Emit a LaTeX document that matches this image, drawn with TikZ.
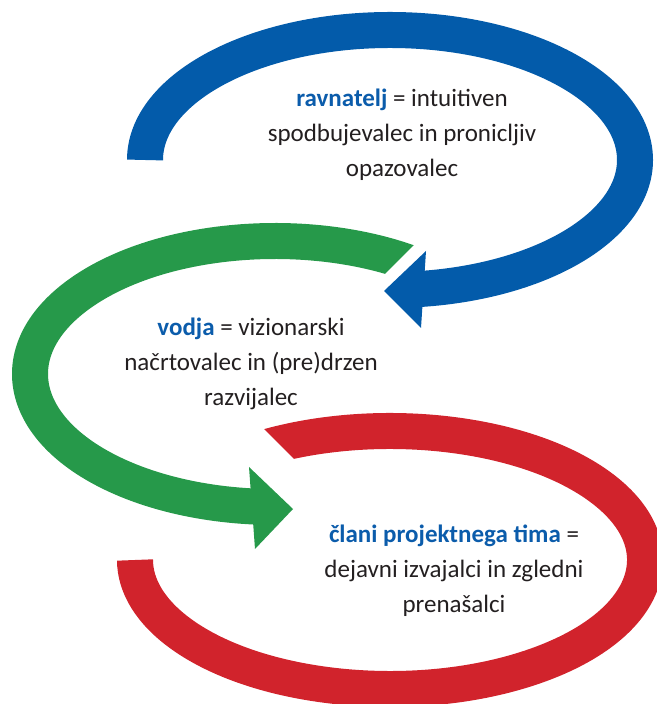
\documentclass[tikz,border=0pt]{standalone}
\usepackage{fontspec}
\setmainfont{Carlito}
\usepackage{tikz}
\definecolor{modra}{HTML}{035BAA}
\definecolor{zelena}{HTML}{26994A}
\definecolor{rdeca}{HTML}{D1232C}
\definecolor{besedilo}{HTML}{231F20}
\definecolor{poudarek}{HTML}{0B5CAB}

\begin{document}
\begin{tikzpicture}[x=1pt,y=1pt,
        pas/.style={line width=36pt},
        opis/.style={align=center,text=besedilo,font=\fontsize{25}{35}\selectfont}]
        \useasboundingbox (0,0) rectangle (656,704);

        % modra puscica
        \draw[pas,modra] (145,544) arc[start angle=180,end angle=-83,x radius=245,y radius=130];
        \fill[modra] (426,453) -- (384,413) -- (421,376) -- cycle;

        % zelena puscica
        \begin{scope}
            \clip (-10,-10) -- (700,-10) -- (700,404) -- (359,404) -- (669,714) -- (-10,714) -- cycle;
            \draw[pas,zelena] (275,330) ++(50:245 and 133) arc[start angle=50,end angle=266,x radius=245,y radius=133];
        \end{scope}
        \fill[zelena] (249,237) -- (293,195) -- (255,155) -- cycle;

        % rdeca puscica
        \begin{scope}
            \clip (-10,-10) -- (700,-10) -- (700,714) -- (-175,714) -- (355,184) -- (-10,184) -- cycle;
            \draw[pas,rdeca] (390,144) ++(125:255 and 129) arc[start angle=125,end angle=-180,x radius=255,y radius=129];
        \end{scope}

        % besedila
        \node[opis] (ravnatelj) at (402,569) {\textcolor{poudarek}{\textbf{ravnatelj}} = intuitiven\\spodbujevalec in pronicljiv\\opazovalec};
        \node[opis] (vodja) at (251,340) {\textcolor{poudarek}{\textbf{vodja}} = vizionarski\\načrtovalec in (pre)drzen\\razvijalec};
        \node[opis] (clani) at (454,133) {\textcolor{poudarek}{\textbf{člani projektnega tima}} =\\dejavni izvajalci in zgledni\\prenašalci};
\end{tikzpicture}
\end{document}
